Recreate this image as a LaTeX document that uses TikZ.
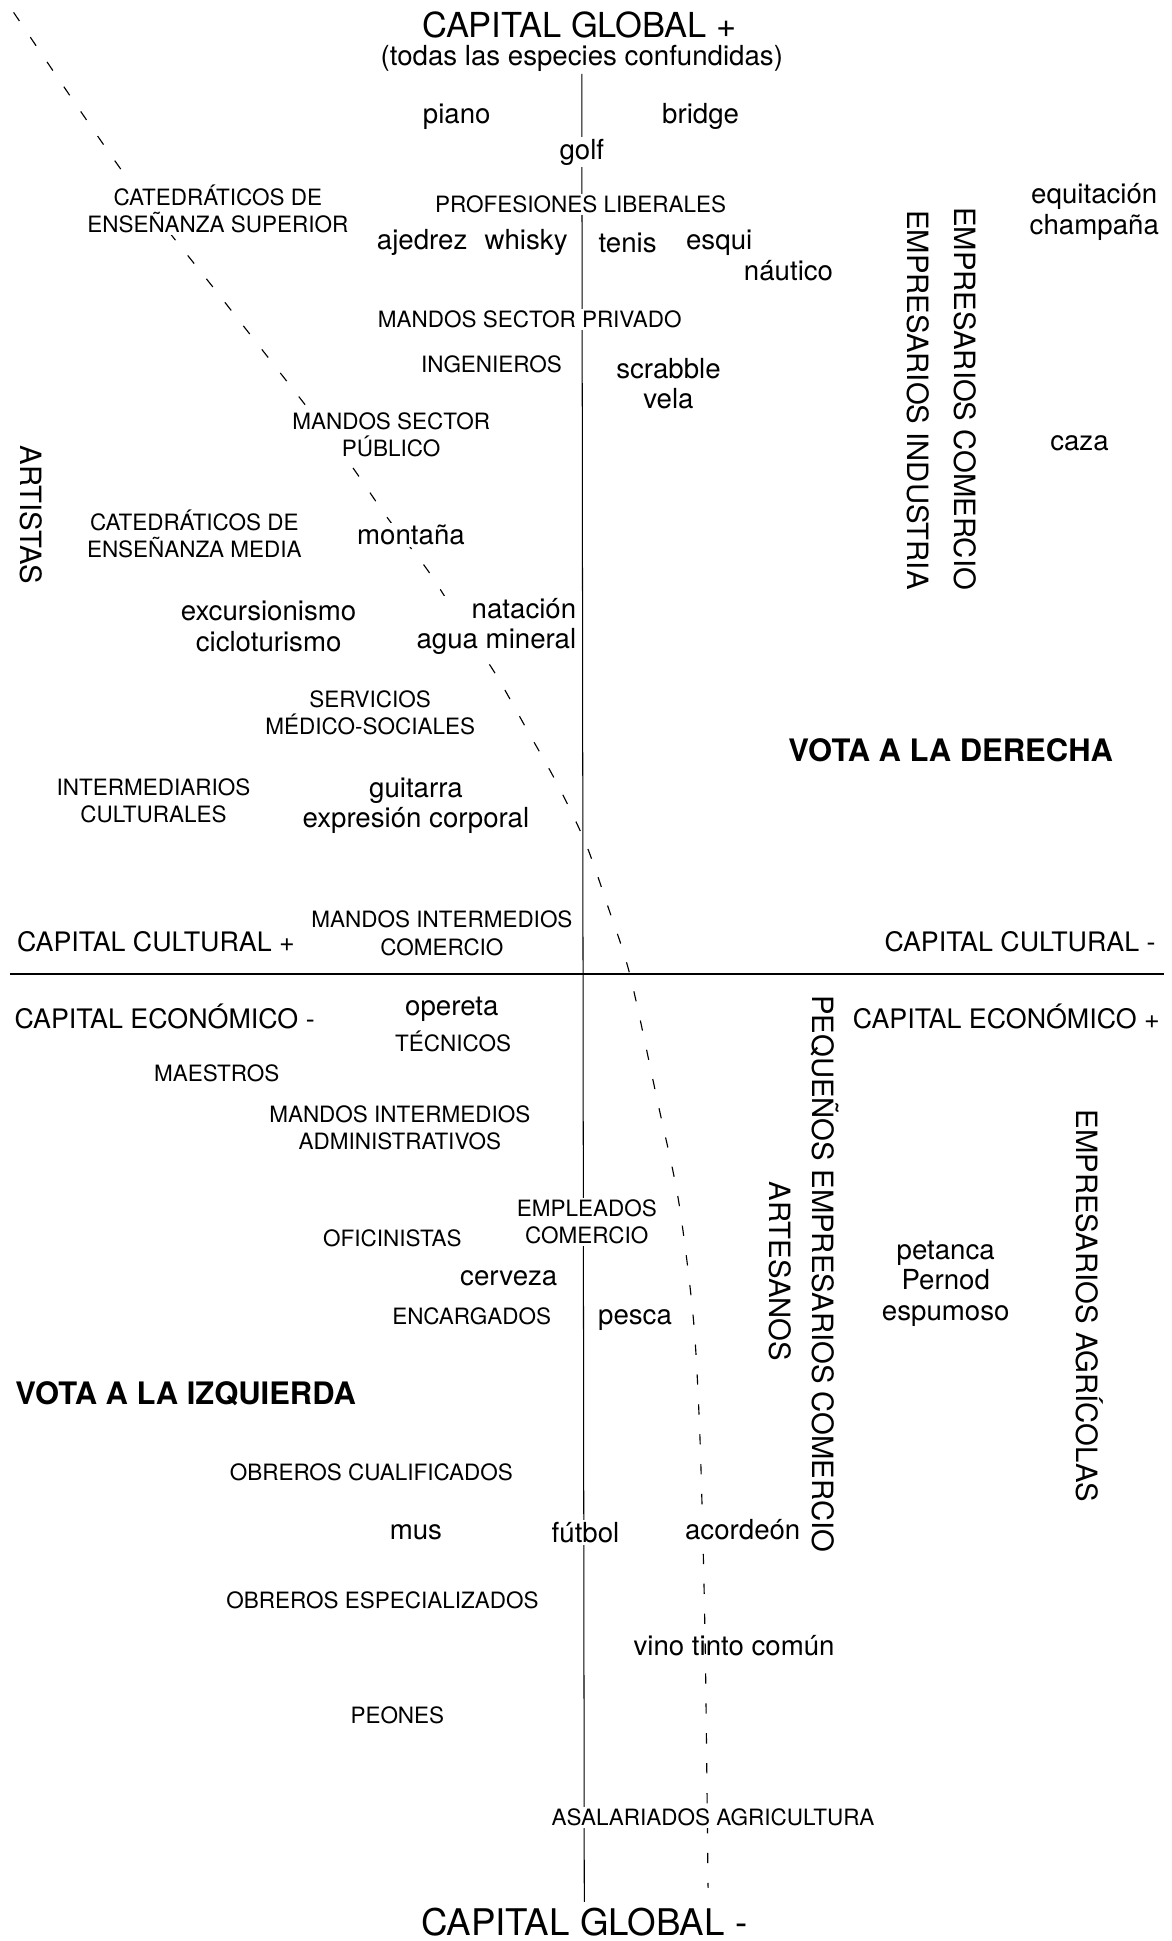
\documentclass[tikz,border=0pt]{standalone}
\usepackage{fontspec}
\setmainfont{TeX Gyre Heros}
\pgfdeclarelayer{bg}
\pgfsetlayers{bg,main}

\begin{document}
\begin{tikzpicture}[x=0.6pt,y=-0.6pt,
    grp/.style={font=\fontsize{10.9}{13.2}\selectfont,align=center,inner sep=1pt},
    pract/.style={font=\fontsize{13.4}{14.8}\selectfont,align=center,inner sep=1pt},
    axe/.style={font=\fontsize{13}{15.6}\selectfont,inner sep=1pt},
    vote/.style={font=\bfseries\fontsize{15}{18}\selectfont,inner sep=1pt},
    vgrp/.style={font=\fontsize{14.2}{17}\selectfont,rotate=-90,inner sep=1pt},
    hide/.style={fill=white}]
  \useasboundingbox (0,0) rectangle (946,1568);
  % ejes
  \node[font=\fontsize{16.7}{20}\selectfont,inner sep=1pt] (gtop) at (468,20) {CAPITAL GLOBAL +};
  \node[pract] (sub) at (470,47) {(todas las especies confundidas)};
  \node[font=\fontsize{17.8}{20}\selectfont,inner sep=1pt] (gbot) at (472,1553) {CAPITAL GLOBAL -};
  \node[axe] (ccp) at (126,761) {CAPITAL CULTURAL +};
  \node[axe] (ccm) at (824,761) {CAPITAL CULTURAL -};
  \node[axe] (cem) at (133,821) {CAPITAL ECONÓMICO -};
  \node[axe] (cep) at (813,821) {CAPITAL ECONÓMICO +};
  \coordinate (hl) at (8,787);
  \coordinate (hr) at (940,787);
  % arriba
  \node[pract] (piano) at (369,94) {piano};
  \node[pract] (bridge) at (566,94) {bridge};
  \node[pract,hide] (golf) at (470,123) {golf};
  \node[grp,hide] (catsup) at (176,169) {CATEDRÁTICOS DE\\ENSEÑANZA SUPERIOR};
  \node[grp,hide] (proflib) at (469,165) {PROFESIONES LIBERALES};
  \node[pract] (ajedrez) at (341,196) {ajedrez};
  \node[pract] (whisky) at (425,196) {whisky};
  \node[pract] (tenis) at (507,196) {tenis};
  \node[pract] (esqui) at (581,196) {esqui};
  \node[pract] (nautico) at (637,219) {náutico};
  \node[pract] (equit) at (884,171) {equitación\\champaña};
  \node[vgrp] (empcom) at (780,322) {EMPRESARIOS COMERCIO};
  \node[vgrp] (empind) at (742,323) {EMPRESARIOS INDUSTRIA};
  \node[pract] (caza) at (872,358) {caza};
  \node[grp,hide] (mandpriv) at (428,258) {MANDOS SECTOR PRIVADO};
  \node[grp] (ingen) at (397,294) {INGENIEROS};
  \node[pract] (scrab) at (540,310) {scrabble\\vela};
  \node[grp,hide] (mandpub) at (316,351) {MANDOS SECTOR\\PÚBLICO};
  \node[vgrp] (artistas) at (25,416) {ARTISTAS};
  \node[grp] (catmed) at (157,431) {CATEDRÁTICOS DE\\ENSEÑANZA MEDIA};
  \node[pract,hide] (montana) at (332,432) {montaña};
  \node[pract] (excur) at (217,506) {excursionismo\\cicloturismo};
  \node[pract,hide,align=right] (natac) at (401,506) {natación\\agua mineral};
  \node[grp] (servic) at (299,576) {SERVICIOS\\MÉDICO-SOCIALES};
  \node[vote] (derecha) at (768,606) {VOTA A LA DERECHA};
  \node[grp] (intermed) at (124,647) {INTERMEDIARIOS\\CULTURALES};
  \node[pract] (guit) at (336,651) {guitarra\\expresión corporal};
  \node[grp] (mandcom) at (357,754) {MANDOS INTERMEDIOS\\COMERCIO};
  % abajo
  \node[pract] (operet) at (365,815) {opereta};
  \node[grp] (tecn) at (366,841) {TÉCNICOS};
  \node[grp] (maestros) at (175,867) {MAESTROS};
  \node[grp] (mandadm) at (323,911) {MANDOS INTERMEDIOS\\ADMINISTRATIVOS};
  \node[vgrp] (pequen) at (666,1029) {PEQUEÑOS EMPRESARIOS COMERCIO};
  \node[vgrp] (empagr) at (880,1055) {EMPRESARIOS AGRÍCOLAS};
  \node[grp,hide] (emplcom) at (474,987) {EMPLEADOS\\COMERCIO};
  \node[grp] (oficin) at (317,1000) {OFICINISTAS};
  \node[vgrp] (artes) at (630,1027) {ARTESANOS};
  \node[pract] (petanca) at (764,1037) {petanca\\Pernod\\espumoso};
  \node[pract] (cerveza) at (411,1033) {cerveza};
  \node[grp] (encarg) at (381,1063) {ENCARGADOS};
  \node[pract] (pesca) at (513,1066) {pesca};
  \node[vote] (izq) at (150,1126) {VOTA A LA IZQUIERDA};
  \node[grp] (obcual) at (300,1189) {OBREROS CUALIFICADOS};
  \node[pract] (mus) at (336,1238) {mus};
  \node[pract,hide] (futbol) at (473,1238) {fútbol};
  \node[pract,hide] (acord) at (600,1236) {acordeón};
  \node[grp] (obesp) at (309,1293) {OBREROS ESPECIALIZADOS};
  \node[pract] (vino) at (593,1329) {vino tinto común};
  \node[grp] (peones) at (321,1386) {PEONES};
  \node[grp,hide] (asal) at (576,1468) {ASALARIADOS AGRICULTURA};
  \begin{pgfonlayer}{bg}
    \draw[line width=0.5pt] (sub.south) -- ([yshift=2pt]gbot.north);
    \draw[line width=0.7pt] (hl) -- (hr);
    \draw[line width=0.55pt,dash pattern=on 5pt off 9.5pt] plot[smooth] coordinates {
      (11,10) (100,140) (176,237) (272,360) (312,417) (345,460)
      (372,502) (400,544) (426,590) (450,633) (473,681) (492,735)
      (509,788) (531,889) (548,969) (560,1064) (565,1150) (568,1250)
      (570,1350) (572,1525)};
  \end{pgfonlayer}
\end{tikzpicture}
\end{document}
